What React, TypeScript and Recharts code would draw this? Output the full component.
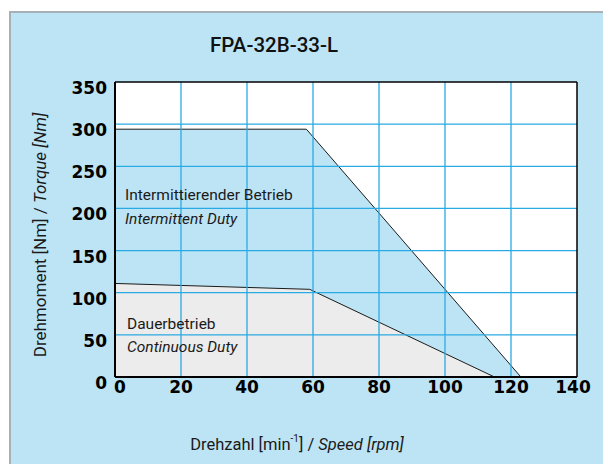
import { ComposedChart, Area, XAxis, YAxis, CartesianGrid, ReferenceLine } from "recharts";

// axis ticks
const rpmTicks = [0, 20, 40, 60, 80, 100, 120, 140];
const torqueTicks = [0, 50, 100, 150, 200, 250, 300, 350];

// intermittent duty envelope
const intermittentRpm = [0, 58, 123];
const intermittentTorque = [294, 294, 0];

// continuous duty envelope
const continuousRpm = [0, 59, 115];
const continuousTorque = [111, 104, 0];

const intermittentData = intermittentRpm.map((rpm, i) => ({ rpm, torque: intermittentTorque[i] }));
const continuousData = continuousRpm.map((rpm, i) => ({ rpm, torque: continuousTorque[i] }));

const GRID = "#2aaae2";
const BG = "#bde4f5";
const TEXT = "#1a1a1a";
const FONT = "Roboto, 'Open Sans', sans-serif";

function XTick(props: any) {
  const { x, y, payload } = props;
  let dx = 0;
  if (payload.value === 0) dx = 5;
  if (payload.value === 140) dx = -4;
  return (
    <text
      x={x + dx}
      y={y + 8}
      textAnchor="middle"
      dominantBaseline="central"
      fontFamily="'DejaVu Sans', sans-serif"
      fontWeight="bold"
      fontSize={17}
      fill="#000"
    >
      {payload.value}
    </text>
  );
}

function YTick(props: any) {
  const { x, y, payload } = props;
  return (
    <text
      x={x}
      y={y + 6}
      textAnchor="end"
      dominantBaseline="central"
      fontFamily="'DejaVu Sans', sans-serif"
      fontWeight="bold"
      fontSize={17}
      fill="#000"
    >
      {payload.value}
    </text>
  );
}

export default function App() {
  return (
    <div style={{ position: "absolute", left: 0, top: 0, width: 603, height: 464, overflow: "hidden", background: "#fff" }}>
      <div
        style={{
          position: "absolute",
          left: 9,
          top: 11,
          right: -4,
          bottom: -4,
          background: BG,
          borderLeft: "2px solid #a6b0b5",
          borderTop: "2px solid #a6b0b5",
        }}
      />
      <div style={{ position: "absolute", left: 0, top: 0 }}>
        <ComposedChart width={603} height={464} margin={{ top: 82, right: 26, bottom: 57, left: 55 }}>
          <CartesianGrid fill="#ffffff" stroke="none" />
          <XAxis
            type="number"
            dataKey="rpm"
            domain={[0, 140]}
            ticks={rpmTicks}
            height={30}
            tickLine={false}
            tickSize={0}
            tick={<XTick />}
            axisLine={{ stroke: "#000", strokeWidth: 2 }}
            allowDataOverflow
          />
          <YAxis
            type="number"
            domain={[0, 350]}
            ticks={torqueTicks}
            width={60}
            tickLine={false}
            tickSize={0}
            tickMargin={8}
            tick={<YTick />}
            axisLine={{ stroke: "#000", strokeWidth: 2 }}
            allowDataOverflow
          />
          <Area
            data={intermittentData}
            type="linear"
            dataKey="torque"
            fill={BG}
            fillOpacity={1}
            stroke="#1a1a1a"
            strokeWidth={1}
            dot={false}
            activeDot={false}
            isAnimationActive={false}
          />
          <Area
            data={continuousData}
            type="linear"
            dataKey="torque"
            fill="#ececec"
            fillOpacity={1}
            stroke="#1a1a1a"
            strokeWidth={1}
            dot={false}
            activeDot={false}
            isAnimationActive={false}
          />
          {rpmTicks.slice(1, -1).map((v) => (
            <ReferenceLine key={"x" + v} x={v} stroke={GRID} strokeWidth={1.3} />
          ))}
          {torqueTicks.slice(1, -1).map((v) => (
            <ReferenceLine key={"y" + v} y={v} stroke={GRID} strokeWidth={1.3} />
          ))}
          <ReferenceLine x={140} stroke="#000" strokeWidth={1.5} />
          <ReferenceLine y={350} stroke="#000" strokeWidth={1.5} />
        </ComposedChart>
      </div>
      <svg width={603} height={464} style={{ position: "absolute", left: 0, top: 0, pointerEvents: "none" }}>
        <text x={274} y={45} textAnchor="middle" dominantBaseline="central" fontFamily={FONT} fontWeight={500} fontSize={20.5} fill="#111">
          FPA-32B-33-L
        </text>
        <g fontFamily={FONT} fontSize={15.5} fill={TEXT}>
          <text x={125} y={195} dominantBaseline="central">Intermittierender Betrieb</text>
          <text x={125} y={219} dominantBaseline="central" fontStyle="italic">Intermittent Duty</text>
          <text x={127} y={324} dominantBaseline="central">Dauerbetrieb</text>
          <text x={127} y={347} dominantBaseline="central" fontStyle="italic">Continuous Duty</text>
        </g>
        <text x={297} y={444} textAnchor="middle" dominantBaseline="central" fontFamily={FONT} fontSize={16.5} fill={TEXT}>
          Drehzahl [min
          <tspan fontSize={10} dy={-6}>-1</tspan>
          <tspan dy={6}>] / </tspan>
          <tspan fontStyle="italic">Speed [rpm]</tspan>
        </text>
        <text
          x={40}
          y={235}
          transform="rotate(-90 40 235)"
          textAnchor="middle"
          dominantBaseline="central"
          fontFamily={FONT}
          fontSize={17}
          fill={TEXT}
        >
          Drehmoment [Nm] / <tspan fontStyle="italic">Torque [Nm]</tspan>
        </text>
      </svg>
    </div>
  );
}
